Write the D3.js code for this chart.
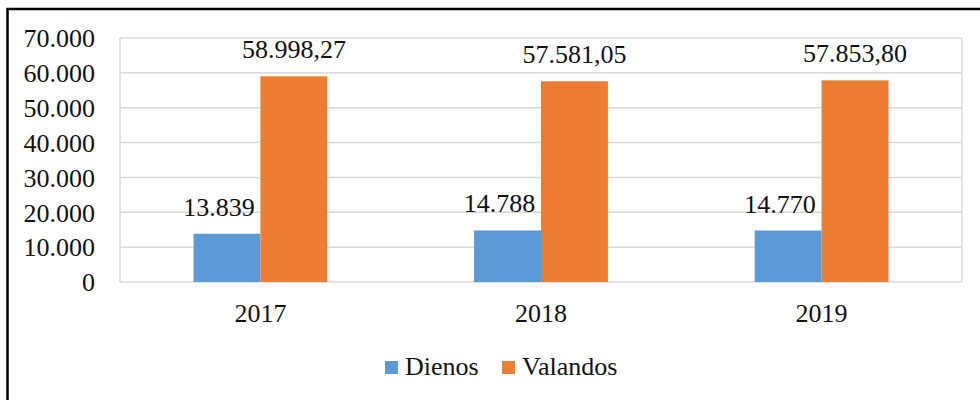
<!DOCTYPE html>
<html>
<head>
<meta charset="utf-8">
<script src="https://cdn.jsdelivr.net/npm/d3@7"></script>
<style>
  body { margin: 0; background: #fff; }
  svg text { font-family: "Liberation Serif", "Times New Roman", Times, "DejaVu Serif", serif !important; fill: #111; }
</style>
</head>
<body>
<div id="vis"></div>
<script>
// frame
const FRAME_WIDTH = 980;
const FRAME_HEIGHT = 400;
const MARGINS = {left: 120, right: 18, top: 38, bottom: 118};

// data
const years = ["2017", "2018", "2019"];
const series = ["Dienos", "Valandos"];
const dienos = [13839, 14788, 14770];
const valandos = [58998.27, 57581.05, 57853.80];
const dienosLabels = ["13.839", "14.788", "14.770"];
const valandosLabels = ["58.998,27", "57.581,05", "57.853,80"];
const yTicks = [0, 10000, 20000, 30000, 40000, 50000, 60000, 70000];
const colors = ["#5b9bd5", "#ed7d31"];

const VIS_WIDTH = FRAME_WIDTH - MARGINS.left - MARGINS.right;
const VIS_HEIGHT = FRAME_HEIGHT - MARGINS.top - MARGINS.bottom;

const svg = d3.select("#vis")
  .append("svg")
    .attr("width", FRAME_WIDTH)
    .attr("height", FRAME_HEIGHT);

// outer border (right/bottom fall outside the picture)
svg.append("rect")
  .attr("x", 7.5).attr("y", 9)
  .attr("width", FRAME_WIDTH + 20).attr("height", FRAME_HEIGHT + 20)
  .attr("fill", "none").attr("stroke", "#000").attr("stroke-width", 2.5);

const g = svg.append("g")
  .attr("transform", "translate(" + MARGINS.left + "," + MARGINS.top + ")");

const X_SCALE = d3.scaleBand()
  .domain(years)
  .range([0, VIS_WIDTH])
  .paddingInner(0.523)
  .paddingOuter(0.262);

const X_SUB = d3.scaleBand()
  .domain(series)
  .range([0, X_SCALE.bandwidth()]);

const Y_SCALE = d3.scaleLinear()
  .domain([0, 70000])
  .range([VIS_HEIGHT, 0]);

// gridlines
g.selectAll(".grid")
  .data(yTicks)
  .enter()
  .append("line")
    .attr("x1", 0).attr("x2", VIS_WIDTH)
    .attr("y1", d => Y_SCALE(d)).attr("y2", d => Y_SCALE(d))
    .attr("stroke", "#d9d9d9").attr("stroke-width", 1.5);

// plot area side lines
g.append("line").attr("x1", 0).attr("x2", 0).attr("y1", 0).attr("y2", VIS_HEIGHT)
  .attr("stroke", "#d9d9d9").attr("stroke-width", 1.5);
g.append("line").attr("x1", VIS_WIDTH).attr("x2", VIS_WIDTH).attr("y1", 0).attr("y2", VIS_HEIGHT)
  .attr("stroke", "#d9d9d9").attr("stroke-width", 1.5);

// y axis
const yAxis = g.append("g")
  .attr("transform", "translate(-22,0)")
  .call(d3.axisLeft(Y_SCALE).tickValues(yTicks).tickSize(0)
    .tickFormat(d => d === 0 ? "0" : d3.format(",")(d).replace(/,/g, ".")));
yAxis.select(".domain").remove();
yAxis.selectAll("text").attr("font-size", "26px").attr("dy", "0.34em");

// x axis
const xAxis = g.append("g")
  .attr("transform", "translate(0," + VIS_HEIGHT + ")")
  .call(d3.axisBottom(X_SCALE).tickSize(0));
xAxis.select(".domain").remove();
xAxis.selectAll("text").attr("font-size", "26px").attr("dy", "0").attr("y", 40);

// bars
const allSeries = [dienos, valandos];
const allLabels = [dienosLabels, valandosLabels];
series.forEach((s, si) => {
  g.selectAll(".bar-" + si)
    .data(allSeries[si])
    .enter()
    .append("rect")
      .attr("x", (d, i) => X_SCALE(years[i]) + X_SUB(s))
      .attr("y", d => Y_SCALE(d))
      .attr("width", X_SUB.bandwidth())
      .attr("height", d => VIS_HEIGHT - Y_SCALE(d))
      .attr("fill", colors[si]);

  g.selectAll(".lbl-" + si)
    .data(allSeries[si])
    .enter()
    .append("text")
      .attr("x", (d, i) => X_SCALE(years[i]) + X_SUB(s) + X_SUB.bandwidth() / 2 - (si === 0 ? 8 : 0))
      .attr("y", d => Y_SCALE(d) - 18)
      .attr("text-anchor", "middle")
      .attr("font-size", "26px")
      .text((d, i) => allLabels[si][i]);
});

// legend
const legend = svg.append("g").attr("transform", "translate(385,361)");
const legendX = [0, 117];
series.forEach((s, si) => {
  legend.append("rect")
    .attr("x", legendX[si]).attr("y", 0)
    .attr("width", 13).attr("height", 13)
    .attr("fill", colors[si]);
  legend.append("text")
    .attr("x", legendX[si] + 20).attr("y", 14)
    .attr("font-size", "26px")
    .text(s);
});
</script>
</body>
</html>
